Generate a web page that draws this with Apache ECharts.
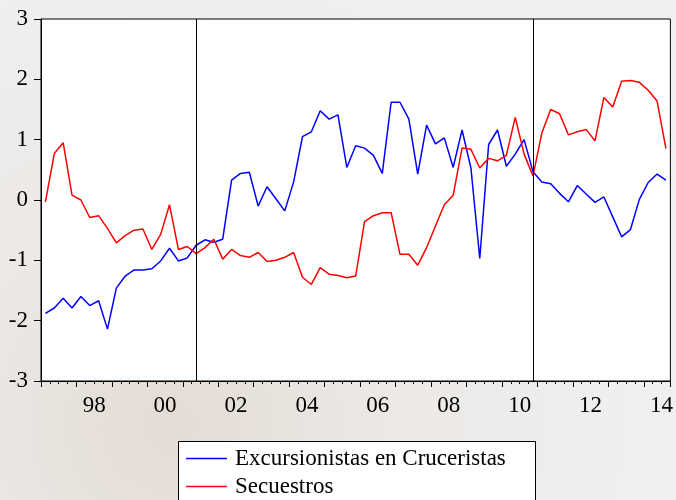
<!DOCTYPE html>
<html>
<head>
<meta charset="utf-8">
<script src="https://cdn.jsdelivr.net/npm/echarts@6/dist/echarts.min.js"></script>
<style>
html, body { margin: 0; padding: 0; }
#chart { width: 676px; height: 500px; }
</style>
</head>
<body>
<div id="chart"></div>
<script>
// quarterly, 1997Q1 .. 2014Q3
var startYear = 1997;
var quarters = [];
for (var i = 0; i < 71; i++) {
	quarters.push((startYear + Math.floor(i / 4)) + 'Q' + (i % 4 + 1));
}

var cruceristas = [
	-1.88, -1.79, -1.63, -1.79, -1.60, -1.75, -1.67, -2.14, -1.46, -1.26,
	-1.16, -1.16, -1.14, -1.01, -0.80, -1.01, -0.96, -0.75, -0.66, -0.70,
	-0.65, 0.33, 0.44, 0.46, -0.10, 0.22, 0.02, -0.18, 0.30, 1.05,
	1.13, 1.48, 1.34, 1.41, 0.54, 0.90, 0.86, 0.74, 0.44, 1.62,
	1.62, 1.34, 0.43, 1.24, 0.93, 1.03, 0.54, 1.16, 0.53, -0.97,
	0.92, 1.16, 0.56, 0.76, 1.00, 0.47, 0.30, 0.27, 0.11, -0.03,
	0.24, 0.10, -0.04, 0.05, -0.28, -0.61, -0.49, 0.01, 0.29, 0.43,
	0.33
];
var secuestros = [
	-0.03, 0.77, 0.95, 0.08, 0.00, -0.29, -0.26, -0.47, -0.71, -0.59,
	-0.50, -0.48, -0.82, -0.57, -0.08, -0.82, -0.77, -0.89, -0.79, -0.65,
	-0.98, -0.82, -0.92, -0.95, -0.87, -1.02, -1.00, -0.95, -0.87, -1.28,
	-1.40, -1.12, -1.23, -1.25, -1.29, -1.26, -0.36, -0.26, -0.21, -0.21,
	-0.90, -0.90, -1.08, -0.79, -0.43, -0.08, 0.08, 0.86, 0.84, 0.53,
	0.69, 0.65, 0.74, 1.37, 0.76, 0.40, 1.11, 1.50, 1.43, 1.08,
	1.13, 1.17, 0.98, 1.70, 1.54, 1.97, 1.98, 1.95, 1.82, 1.64,
	0.85
];
var breakPoints = ['2001Q2', '2010Q4'];
var yearLabels = ['98', '00', '02', '04', '06', '08', '10', '12', '14'];
var seriesNames = ['Excursionistas en Cruceristas', 'Secuestros'];

var font = 'Liberation Serif';
var myCharts = echarts.init(document.getElementById('chart'));

var option = {
	animation: false,
	backgroundColor: {
		type: 'radial', x: 0.25, y: 0.85, r: 0.9,
		colorStops: [
			{offset: 0, color: '#e4dcd4'},
			{offset: 0.5, color: '#ece9e6'},
			{offset: 1, color: '#efefef'}
		]
	},
	grid: {
		left: 41,
		right: 4,
		top: 19,
		bottom: 119,
		show: true,
		backgroundColor: '#fff',
		borderColor: '#000',
		borderWidth: 1,
		containLabel: false
	},
	graphic: [{
		type: 'rect',
		shape: {x: 178.5, y: 441.5, width: 357, height: 80},
		style: {fill: '#fff', stroke: '#000', lineWidth: 1},
		z: 1
	}],
	legend: {
		orient: 'vertical',
		left: 186,
		top: 447,
		padding: 0,
		itemGap: 5,
		itemWidth: 41,
		itemHeight: 1.5,
		icon: 'rect',
		z: 5,
		data: seriesNames,
		textStyle: {
			fontFamily: font,
			fontSize: 23,
			color: '#000',
			padding: [0, 0, 0, 3]
		}
	},
	xAxis: [
	{
		type: 'category',
		data: quarters,
		boundaryGap: true,
		show: false
	},{
		// quarter ticks
		type: 'value',
		position: 'bottom',
		min: 0,
		max: 71,
		interval: 1,
		axisLine: {show: true, lineStyle: {color: '#000', width: 1}},
		axisTick: {show: true, length: 3, lineStyle: {color: '#000'}},
		axisLabel: {show: false},
		splitLine: {show: false}
	},{
		// year ticks
		type: 'value',
		position: 'bottom',
		min: 0,
		max: 71,
		interval: 4,
		axisLine: {show: false},
		axisTick: {show: true, length: 6, lineStyle: {color: '#000'}},
		axisLabel: {show: false},
		splitLine: {show: false}
	},{
		// year labels, centred in the year
		type: 'value',
		position: 'bottom',
		min: 0,
		max: 71,
		interval: 2,
		axisLine: {show: false},
		axisTick: {show: false},
		splitLine: {show: false},
		axisLabel: {
			show: true,
			margin: 13,
			fontFamily: font,
			fontSize: 23,
			color: '#000',
			showMinLabel: true,
			showMaxLabel: true,
			formatter: function (v) {
				if (v % 8 !== 6) return '';
				return yearLabels[(v - 6) / 8] || '';
			}
		}
	}
	],
	yAxis: {
		type: 'value',
		min: -3,
		max: 3,
		interval: 1,
		axisLine: {show: true, lineStyle: {color: '#000'}},
		axisTick: {show: true, length: 7, lineStyle: {color: '#000'}},
		splitLine: {show: false},
		axisLabel: {
			margin: 13,
			fontFamily: font,
			fontSize: 23,
			color: '#000'
		}
	},
	series: [
	{
		name: seriesNames[0],
		type: 'line',
		xAxisIndex: 0,
		symbol: 'none',
		lineStyle: {color: '#0000ff', width: 1.5},
		itemStyle: {color: '#0000ff'},
		data: cruceristas,
		markLine: {
			silent: true,
			symbol: 'none',
			label: {show: false},
			lineStyle: {color: '#000', type: 'solid', width: 1},
			data: breakPoints.map(function (q) {
				return {xAxis: q};
			})
		}
	},{
		name: seriesNames[1],
		type: 'line',
		xAxisIndex: 0,
		symbol: 'none',
		lineStyle: {color: '#ff0000', width: 1.5},
		itemStyle: {color: '#ff0000'},
		data: secuestros
	}
	]
};
myCharts.setOption(option);
</script>
</body>
</html>
